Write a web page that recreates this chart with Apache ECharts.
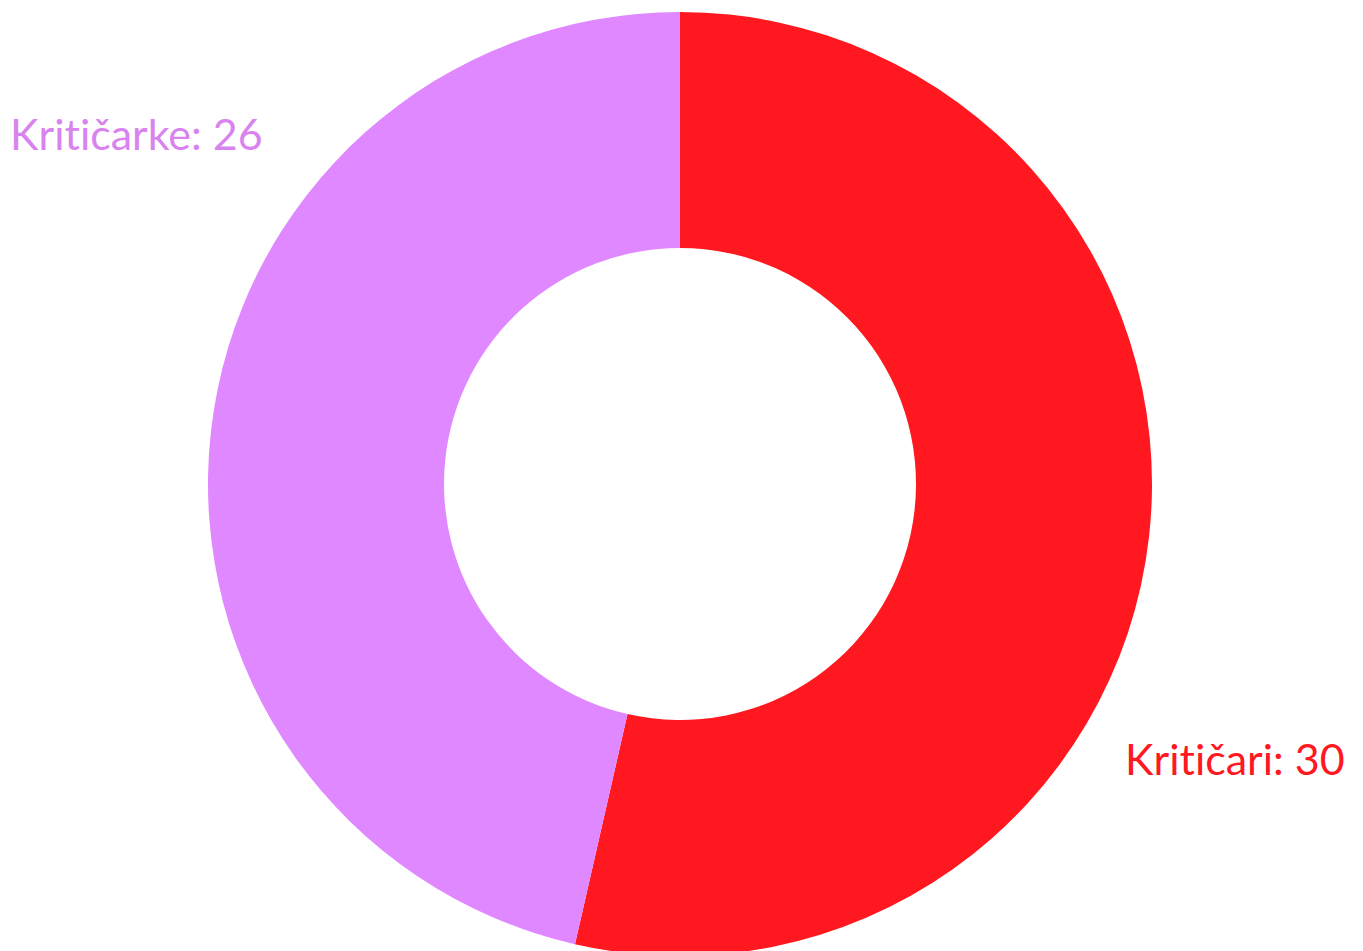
<!DOCTYPE html>
<html>
<head>
<meta charset="utf-8">
<script src="https://cdn.jsdelivr.net/npm/echarts@6/dist/echarts.min.js"></script>
<style>
html,body{margin:0;padding:0;background:#fff;}
#chart{width:1363px;height:951px;}
#chart text{font-variant-ligatures:none;font-feature-settings:"liga" 0;}
</style>
</head>
<body>
<div id="chart"></div>
<script>
const categories = ["Kritičari", "Kritičarke"];
const values = [30, 26];
const sliceColors = ["#ff181f", "#e088ff"];
const labelColors = ["#ff181f", "#d983f0"];

const labelPos = [
  {x: 1125, y: 758, align: 'left'},
  {x: 10, y: 133, align: 'left'}
];

const chart = echarts.init(document.getElementById('chart'), null, {renderer: 'svg'});
chart.setOption({
  animation: false,
  series: [{
    type: 'pie',
    center: [680, 484],
    radius: [236, 472],
    startAngle: 90,
    clockwise: true,
    avoidLabelOverlap: false,
    data: categories.map((c, i) => ({
      name: c,
      value: values[i],
      itemStyle: {color: sliceColors[i], borderWidth: 0},
      label: {color: labelColors[i]}
    })),
    label: {
      show: true,
      position: 'outside',
      formatter: '{b}: {c}',
      fontFamily: 'Lato',
      fontSize: 43,
      fontWeight: 'normal'
    },
    labelLine: {show: false},
    labelLayout: function (params) {
      const p = labelPos[params.dataIndex];
      return {x: p.x, y: p.y, align: p.align, verticalAlign: 'middle'};
    },
    emphasis: {disabled: true}
  }]
});
</script>
</body>
</html>
